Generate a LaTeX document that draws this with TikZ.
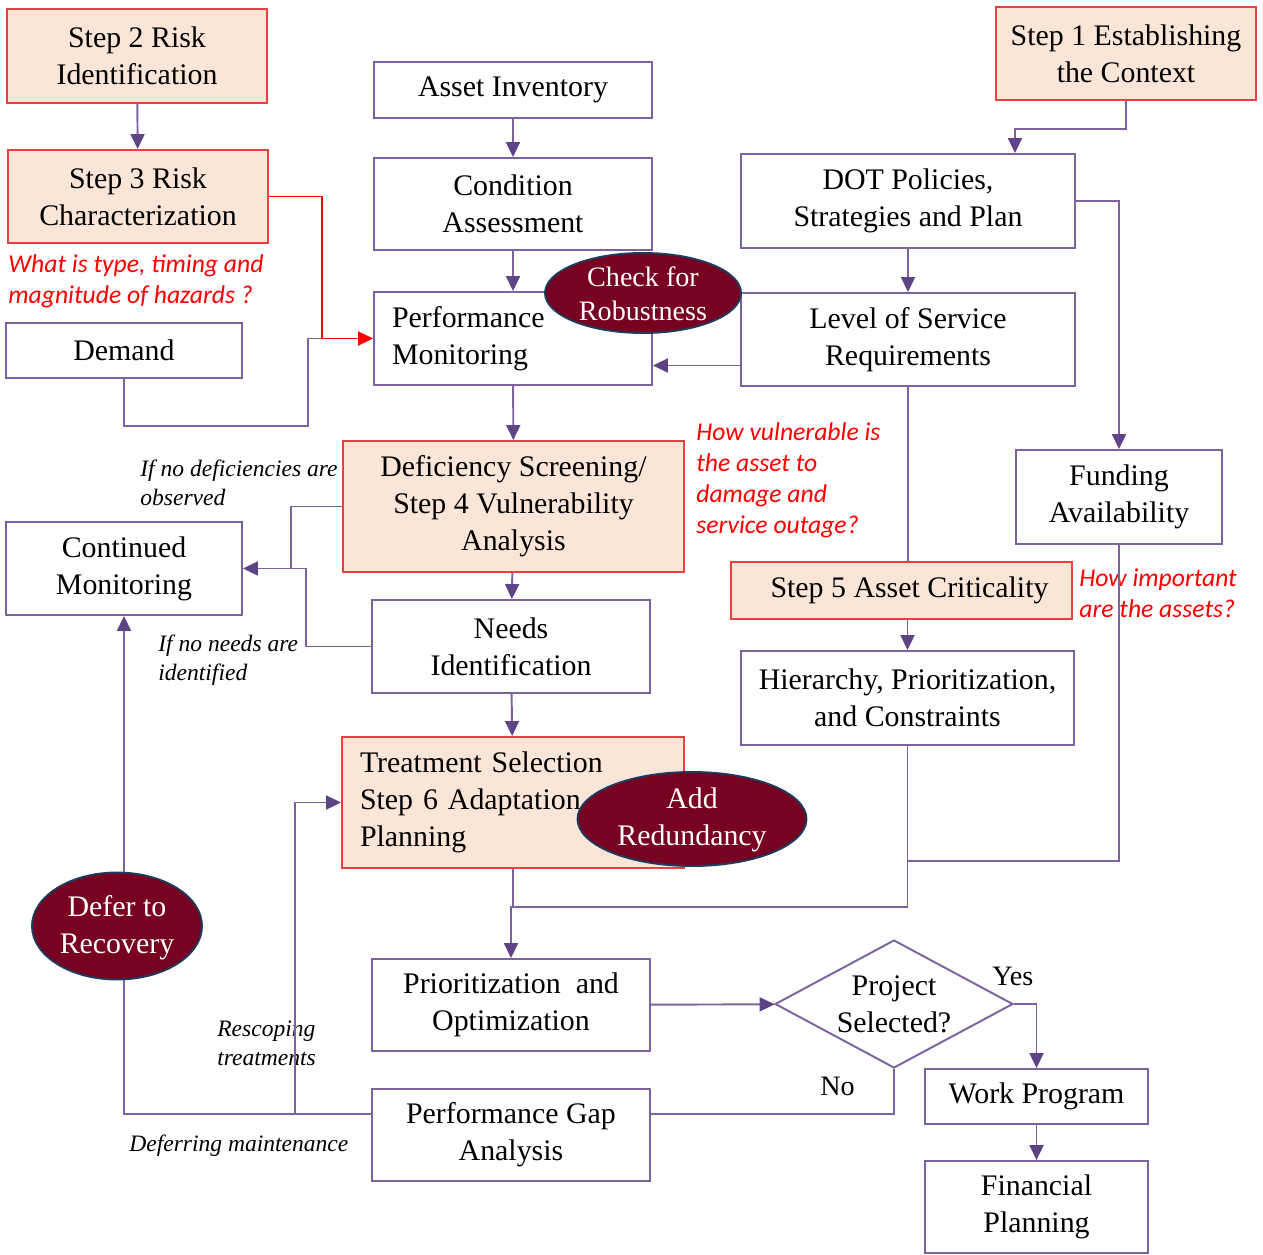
\documentclass[tikz,border=0pt]{standalone}
\usepackage{fontspec}
\setmainfont{Liberation Serif}
\newfontfamily\calibri{Carlito}
\usetikzlibrary{shapes.geometric,arrows.meta,calc}
\definecolor{rkpurple}{HTML}{7D62A0}
\definecolor{rktip}{HTML}{5E4385}
\definecolor{rkpeach}{HTML}{FBE5D6}
\definecolor{rkred}{HTML}{E8413F}
\definecolor{rkmaroon}{HTML}{780020}
\definecolor{rknavy}{HTML}{1F3A5C}
\tikzset{
  box/.style={draw=rkpurple, line width=1.1pt, fill=white, align=center, inner sep=0pt,
    font=\fontsize{17}{21}\selectfont},
  stepbox/.style={box, draw=rkred, fill=rkpeach},
  oval/.style={ellipse, draw=rknavy, line width=1.1pt, fill=rkmaroon, inner sep=0pt},
  ovaltext/.style={text=white, align=center, font=\fontsize{17}{21}\selectfont},
  decide/.style={diamond, draw=rkpurple, line width=1.1pt, fill=white, inner sep=0pt},
  link/.style={draw=rkpurple, line width=1.1pt},
  arr/.style={link, -{Triangle[length=0.3cm,width=0.28cm,color=rktip]}},
  redarr/.style={draw=red, line width=1.1pt, -{Triangle[length=0.3cm,width=0.28cm]}},
  question/.style={text=red, align=left, anchor=west, inner sep=0pt,
    font=\calibri\itshape\fontsize{14.6}{17.6}\selectfont},
  remark/.style={align=left, anchor=west, inner sep=0pt, font=\itshape\fontsize{13.4}{16.5}\selectfont},
}
\begin{document}
\begin{tikzpicture}[x=0.02cm, y=-0.02cm]
  \useasboundingbox (0,0) rectangle (1263,1254);
  % risk steps, left column
  \node[stepbox, minimum width=5.2cm, minimum height=1.88cm] (step2) at (137,56) {Step 2 Risk\\Identification};
  \node[stepbox, minimum width=5.2cm, minimum height=1.86cm] (step3) at (138,196.5) {Step 3 Risk\\Characterization};
  \node[question] (q3) at (8,281.5) {What is type, timing and\\magnitude of hazards ?};
  \node[box, minimum width=4.72cm, minimum height=1.1cm] (demand) at (124,350.5) {Demand};
  \node[box, minimum width=4.72cm, minimum height=1.86cm] (cont) at (124,568.5) {Continued\\Monitoring};
  \node[remark] (r1) at (140,482.5) {If no deficiencies are\\observed};
  \node[remark] (r2) at (158,660) {If no needs are\\identified};
  \node[remark] (r3) at (217,1043) {Rescoping\\treatments};
  \node[remark] (r4) at (129,1146) {Deferring maintenance};
  % middle column
  \node[box, minimum width=5.56cm, minimum height=1.12cm] (asset) at (513,90) {Asset Inventory};
  \node[box, minimum width=5.56cm, minimum height=1.84cm] (cond) at (513,204) {Condition\\Assessment};
  \node[box, minimum width=5.56cm, minimum height=1.86cm, inner xsep=0.36cm, text width=4.84cm, align=left] (perfmon) at (513,338.5) {Performance\\Monitoring};
  \node[stepbox, minimum width=6.82cm, minimum height=2.62cm] (defic) at (513.5,506.5) {Deficiency Screening/\\Step 4 Vulnerability\\Analysis};
  \node[question] (q4) at (696,480.5) {How vulnerable is\\the asset to\\damage and\\service outage?};
  \node[box, minimum width=5.56cm, minimum height=1.86cm] (needs) at (511,646.5) {Needs\\Identification};
  \node[stepbox, minimum width=6.84cm, minimum height=2.62cm, inner xsep=0.36cm, text width=6.12cm, align=left] (treat) at (513,802.5) {Treatment Selection\\Step 6 Adaptation\\Planning};
  \node[box, minimum width=5.56cm, minimum height=1.84cm] (prio) at (511,1005) {Prioritization~ and\\Optimization};
  \node[box, minimum width=5.56cm, minimum height=1.84cm] (gap) at (511,1135) {Performance Gap\\Analysis};
  % right column
  \node[stepbox, minimum width=5.2cm, minimum height=1.86cm] (step1) at (1126,53.5) {Step 1 Establishing\\the Context};
  \node[box, minimum width=6.68cm, minimum height=1.88cm] (dot) at (908,201) {DOT Policies,\\Strategies and Plan};
  \node[box, minimum width=6.68cm, minimum height=1.86cm] (los) at (908,339.5) {Level of Service\\Requirements};
  \node[box, minimum width=4.12cm, minimum height=1.88cm] (fund) at (1119,497) {Funding\\Availability};
  \node[stepbox, minimum width=6.82cm, minimum height=1.14cm] (step5) at (901.5,590.5) {\hspace*{0.32cm}Step 5 Asset Criticality};
  \node[question] (q5) at (1079,593.5) {How important\\are the assets?};
  \node[box, minimum width=6.66cm, minimum height=1.88cm] (hier) at (907.5,698) {Hierarchy, Prioritization,\\and Constraints};
  \node[decide, minimum width=4.76cm, minimum height=2.56cm] (sel) at (894,1004) {};
  \node[font=\fontsize{17}{21}\selectfont, align=center] (seltext) at (sel) {Project\\Selected?};
  \node[box, minimum width=4.46cm, minimum height=1.1cm] (work) at (1036.5,1096.5) {Work Program};
  \node[box, minimum width=4.46cm, minimum height=1.84cm] (fin) at (1036.5,1207) {Financial\\Planning};
  \node[anchor=west, inner sep=0pt, font=\fontsize{16}{19}\selectfont] (yes) at (992,976) {Yes};
  \node[anchor=west, inner sep=0pt, font=\fontsize{16}{19}\selectfont] (no) at (820,1086) {No};
  % ovals
  \node[oval, minimum width=3.92cm, minimum height=1.6cm] (chk) at (643,293) {};
  \node[ovaltext, font=\fontsize{16}{19.5}\selectfont] (chktext) at (643,294) {Check for\\Robustness};
  \node[oval, minimum width=4.58cm, minimum height=1.88cm] (add) at (692,819) {};
  \node[ovaltext] (addtext) at (692,819.5) {Add\\Redundancy};
  \node[oval, minimum width=3.4cm, minimum height=2.14cm] (defer) at (117,926) {};
  \node[ovaltext] (defertext) at (117,927.5) {Defer to\\Recovery};
  % join points
  \coordinate (dj) at (321,338.5);
  \coordinate (nj) at (292,568.5);
  % connectors
  \draw[arr] (step2) -- (step3);
  \draw[redarr] (step3.east) -- ++(53,0) |- (perfmon.west);
  \draw[link] (demand.south) -- ++(0,47) -- ++(184,0) |- (dj);
  \draw[arr] (asset) -- (cond);
  \draw[arr] (cond) -- (perfmon);
  \draw[arr] (step1.south) -- ++(0,28) -| ([xshift=2.14cm]dot.north);
  \draw[arr] (dot) -- (los);
  \draw[arr] ([yshift=-0.52cm]los.west) -- ([yshift=-0.52cm]los.west -| perfmon.east);
  \draw[arr] (dot.east) -| (fund.north);
  \draw[arr] (perfmon) -- (defic);
  \draw[arr] (defic.west) -- ++(-51,0) |- (cont.east);
  \draw[link] (needs.west) -- ++(-65,0) |- (nj);
  \draw[arr] (defic) -- (needs);
  \draw[arr] (needs) -- (treat);
  \draw[link] (los.south) -- (los.south |- step5.north);
  \draw[arr] (step5.south -| hier.north) -- (hier.north);
  \draw[arr] (hier.south) -- ++(0,161) -| (prio.north);
  \draw[link] (treat.south) -- ++(0,38);
  \draw[link] (fund.south) |- ([yshift=-2.3cm]hier.south);
  \draw[arr] (prio) -- (sel);
  \draw[arr] (sel.east) -| (work.north);
  \draw[link] (sel.south) |- ([yshift=0.42cm]gap.east);
  \draw[link] ([yshift=0.42cm]gap.west) -| (defer.south -| cont.south);
  \draw[arr] (defer.north -| cont.south) -- (cont.south);
  \draw[arr] ([yshift=0.42cm]gap.west) -- ++(-76,0) |- (treat.west);
  \draw[arr] (work) -- (fin);
\end{tikzpicture}
\end{document}
